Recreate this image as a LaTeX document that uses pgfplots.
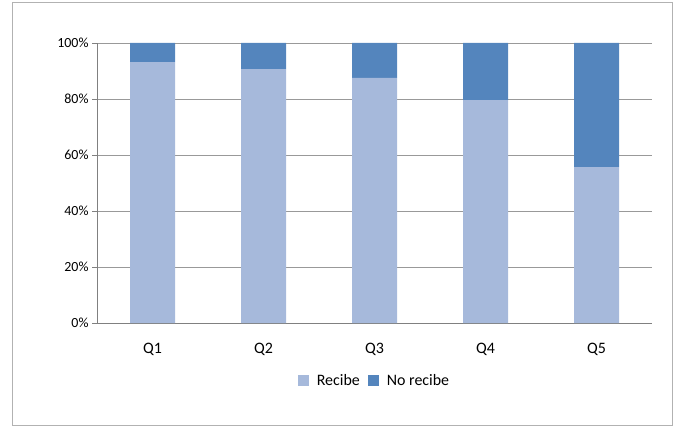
\documentclass[border=0pt]{standalone}
\usepackage{pgfplots}
\pgfplotsset{compat=1.18}
\usepackage{fontspec}
\setmainfont{Carlito}
\definecolor{lb}{HTML}{A6B9DB}
\definecolor{db}{HTML}{5485BD}
\begin{document}
\begin{tikzpicture}[x=1bp,y=1bp]
\begin{axis}[name=ax,at={(97bp,107bp)},anchor=south west,
 scale only axis,width=555bp,height=280bp,
 ybar stacked,bar width=45bp,
 xmin=-0.5,xmax=4.5,ymin=0,ymax=100,
 xtick={0,1,2,3,4},xticklabels={Q1,Q2,Q3,Q4,Q5},
 extra x ticks={-0.5,0.5,1.5,2.5,3.5,4.5},extra x tick labels={},
 extra x tick style={major tick length=5bp,tick style={gray},grid=none},
 x tick style={draw=none},
 ytick={0,20,...,100},yticklabel={\pgfmathprintnumber{\tick}\%},
 /pgf/number format/assume math mode=true,
 ymajorgrids,grid style={gray!80},
 axis line style={gray},y tick style={gray},tick align=outside,major tick length=5bp,
 axis x line*=bottom,axis y line*=left,
 tick label style={font=\fontsize{14}{16}\selectfont},
 xticklabel style={font=\fontsize{16}{18}\selectfont,yshift=-12bp},
 legend style={at={(0.5,-0.17)},anchor=north,draw=none,legend columns=2,font=\fontsize{16}{18}\selectfont,column sep=6bp},
 legend image code/.code={\fill[#1] (0bp,-5bp) rectangle (11bp,6bp);},
]
\addplot[fill=lb,draw=none] coordinates {(0,93.2) (1,90.7) (2,87.5) (3,79.6) (4,55.7)};
\addplot[fill=db,draw=none] coordinates {(0,6.8) (1,9.3) (2,12.5) (3,20.4) (4,44.3)};
\legend{Recibe,No recibe}
\end{axis}
\path (0,0) rectangle (679,430);
\draw[gray!60] (12,5) rectangle (672,428);
\end{tikzpicture}
\end{document}
